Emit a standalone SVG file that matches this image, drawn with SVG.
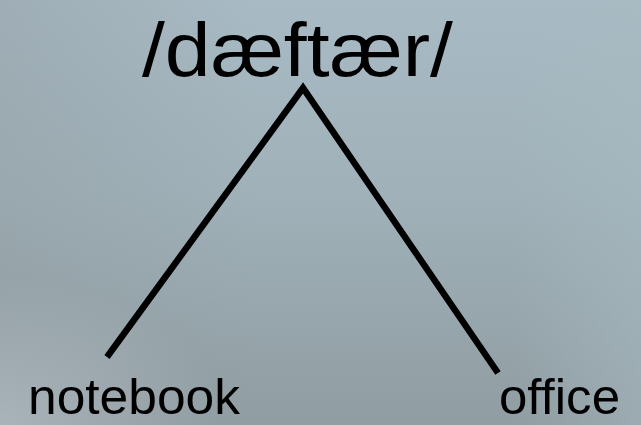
<svg xmlns="http://www.w3.org/2000/svg" width="641" height="425" viewBox="0 0 641 425">
  <defs>
    <linearGradient id="bg" x1="0" y1="0" x2="0" y2="1">
      <stop offset="0" stop-color="#a8bac4"/>
      <stop offset="0.45" stop-color="#a0b1b9"/>
      <stop offset="1" stop-color="#909da2"/>
    </linearGradient>
    <linearGradient id="side" x1="0" y1="0" x2="1" y2="0">
      <stop offset="0" stop-color="#8e989c" stop-opacity="0.35"/>
      <stop offset="0.4" stop-color="#8e989c" stop-opacity="0"/>
      <stop offset="0.8" stop-color="#a8bcc2" stop-opacity="0"/>
      <stop offset="1" stop-color="#a8bcc2" stop-opacity="0.45"/>
    </linearGradient>
    <radialGradient id="corner" cx="0" cy="1" r="0.35">
      <stop offset="0" stop-color="#b0bac0" stop-opacity="0.8"/>
      <stop offset="1" stop-color="#b0bac0" stop-opacity="0"/>
    </radialGradient>
    <style>
      .word { font-family: "Liberation Sans", Arial, sans-serif; fill: #000; }
      .edge { stroke: #000; stroke-width: 6.5; fill: none; stroke-linecap: butt; stroke-linejoin: miter; }
    </style>
  </defs>

  <!-- backdrop -->
  <rect width="641" height="425" fill="url(#bg)"/>
  <rect width="641" height="425" fill="url(#side)"/>
  <rect width="641" height="425" fill="url(#corner)"/>

  <!-- connectors -->
  <g id="connectors">
    <polyline class="edge" points="107,357 303,88 498,373"/>
  </g>

  <g id="root">
    <text class="word" x="142" y="76" font-size="76" textLength="311" lengthAdjust="spacingAndGlyphs">/dæftær/</text>
  </g>

  <g id="notebook">
    <text class="word" x="28" y="414" font-size="49.5" textLength="212" lengthAdjust="spacingAndGlyphs">notebook</text>
  </g>

  <g id="office">
    <text class="word" x="499" y="414" font-size="49.5" textLength="121" lengthAdjust="spacingAndGlyphs">office</text>
  </g>
</svg>
